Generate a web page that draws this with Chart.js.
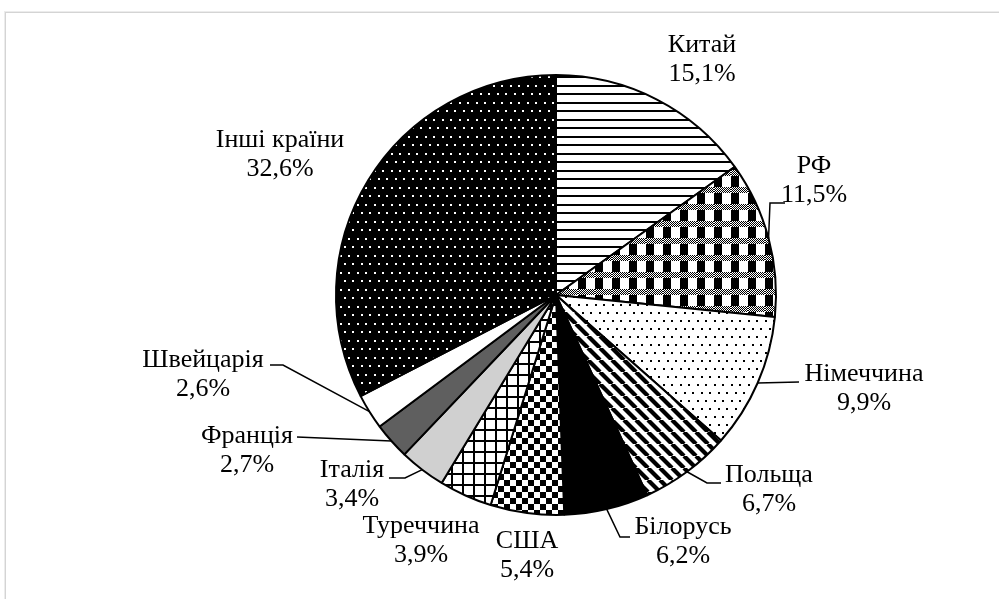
<!DOCTYPE html>
<html lang="uk">
<head>
    <meta charset="UTF-8">
    <title>Структура</title>
    <script src="https://cdn.jsdelivr.net/npm/chart.js"></script>
    <style>
        body {
            margin: 0;
            background: #fff;
        }
        #wrap {
            position: relative;
            width: 999px;
            height: 599px;
            overflow: hidden;
        }
        #frame {
            position: absolute;
            left: 5px;
            top: 12px;
            width: 1100px;
            height: 700px;
            border: 1px solid #d4d4d4;
            box-shadow: 0 0 0 1px #ececec;
        }
        canvas {
            position: absolute;
            left: 0;
            top: 0;
        }
    </style>
</head>
<body>
<div id="wrap">
    <div id="frame"></div>
    <canvas id="pieChart" width="999" height="599"></canvas>
</div>

<script>
    // Data
    const countries = ['Китай', 'РФ', 'Німеччина', 'Польща', 'Білорусь', 'США',
        'Туреччина', 'Італія', 'Франція', 'Швейцарія', 'Інші країни'];
    const shares = [15.1, 11.5, 9.9, 6.7, 6.2, 5.4, 3.9, 3.4, 2.7, 2.6, 32.6];

    // label layout: text centre and leader line (null = no line)
    const labelLayout = [
        { x: 702, y: 45, line: null },
        { x: 814, y: 166, line: [[770, 203], [785, 203]] },
        { x: 864, y: 374, line: [[799, 382]] },
        { x: 769, y: 475, line: [[707, 483], [721, 483]] },
        { x: 683, y: 527, line: [[620, 537], [630, 537]] },
        { x: 527, y: 541, line: null },
        { x: 421, y: 526, line: null },
        { x: 352, y: 470, line: [[405, 478], [389, 478]] },
        { x: 247, y: 436, line: [[297, 437]] },
        { x: 203, y: 360, line: [[283, 365], [270, 365]] },
        { x: 280, y: 140, line: null }
    ];

    function makePattern(w, h, draw) {
        const c = document.createElement('canvas');
        c.width = w;
        c.height = h;
        const g = c.getContext('2d');
        draw(g, w, h);
        return g.createPattern(c, 'repeat');
    }

    const hLines = makePattern(17, 17, (g) => {
        g.fillStyle = '#fff'; g.fillRect(0, 0, 17, 17);
        g.fillStyle = '#000';
        g.fillRect(0, 0, 17, 2);
        g.fillRect(0, 8, 17, 2);
    });

    const plaid = makePattern(17, 17, (g) => {
        g.fillStyle = '#fff'; g.fillRect(0, 0, 17, 17);
        g.fillStyle = '#000';
        // fine checker band
        for (let y = 0; y < 6; y++) {
            for (let x = 0; x < 17; x++) {
                if ((x + y) % 2 === 0) g.fillRect(x, y, 1, 1);
            }
        }
        g.fillRect(0, 6, 8, 11);
    });

    const dotsWhite = makePattern(17, 16, (g) => {
        g.fillStyle = '#fff'; g.fillRect(0, 0, 17, 16);
        g.fillStyle = '#000';
        g.fillRect(0, 0, 2, 2);
        g.fillRect(8, 0, 2, 2);
        g.fillRect(4, 8, 2, 2);
        g.fillRect(12, 8, 2, 2);
    });

    const diag = makePattern(12, 12, (g) => {
        g.fillStyle = '#fff'; g.fillRect(0, 0, 12, 12);
        g.strokeStyle = '#000';
        g.lineWidth = 4.2;
        for (let k = -12; k <= 24; k += 12) {
            g.beginPath();
            g.moveTo(k, 0);
            g.lineTo(k + 12, 12);
            g.stroke();
        }
    });

    const checker = makePattern(12, 12, (g) => {
        g.fillStyle = '#fff'; g.fillRect(0, 0, 12, 12);
        g.fillStyle = '#000';
        g.fillRect(0, 0, 6, 6);
        g.fillRect(6, 6, 6, 6);
    });

    const grid = makePattern(11, 11, (g) => {
        g.fillStyle = '#fff'; g.fillRect(0, 0, 11, 11);
        g.fillStyle = '#000';
        g.fillRect(0, 0, 11, 2);
        g.fillRect(0, 0, 2, 11);
    });

    const dotsBlack = makePattern(17, 17, (g) => {
        g.fillStyle = '#000'; g.fillRect(0, 0, 17, 17);
        g.fillStyle = '#fff';
        g.fillRect(0, 0, 2, 2);
        g.fillRect(8, 0, 2, 2);
        g.fillRect(4, 8, 2, 2);
        g.fillRect(12, 8, 2, 2);
    });

    const fills = [hLines, plaid, dotsWhite, diag, '#000', checker, grid,
        '#d0d0d0', '#5f5f5f', '#fff', dotsBlack];

    const fontFamily = '"Liberation Serif", "Times New Roman", serif';

    const labelPlugin = {
        id: 'pieLabels',
        afterDatasetsDraw(chart) {
            const ctx = chart.ctx;
            const meta = chart.getDatasetMeta(0);
            ctx.save();
            meta.data.forEach((arc, i) => {
                const lay = labelLayout[i];
                if (lay.line) {
                    const mid = (arc.startAngle + arc.endAngle) / 2;
                    const px = arc.x + Math.cos(mid) * arc.outerRadius;
                    const py = arc.y + Math.sin(mid) * arc.outerRadius;
                    ctx.beginPath();
                    ctx.moveTo(px, py);
                    lay.line.forEach(p => ctx.lineTo(p[0], p[1]));
                    ctx.strokeStyle = '#000';
                    ctx.lineWidth = 1.5;
                    ctx.stroke();
                }
                ctx.fillStyle = '#000';
                ctx.font = '26px ' + fontFamily;
                ctx.textAlign = 'center';
                ctx.textBaseline = 'middle';
                ctx.fillText(countries[i], lay.x, lay.y);
                ctx.fillText(shares[i].toFixed(1).replace('.', ',') + '%', lay.x, lay.y + 29);
            });
            ctx.restore();
        }
    };

    new Chart(document.getElementById('pieChart'), {
        type: 'pie',
        data: {
            labels: countries,
            datasets: [{
                data: shares,
                backgroundColor: fills,
                borderColor: '#000',
                borderWidth: 2,
                borderAlign: 'center'
            }]
        },
        options: {
            responsive: false,
            animation: false,
            layout: {
                padding: { left: 335, right: 222, top: 74, bottom: 83 }
            },
            plugins: {
                legend: { display: false },
                tooltip: { enabled: false }
            }
        },
        plugins: [labelPlugin]
    });
</script>
</body>
</html>
